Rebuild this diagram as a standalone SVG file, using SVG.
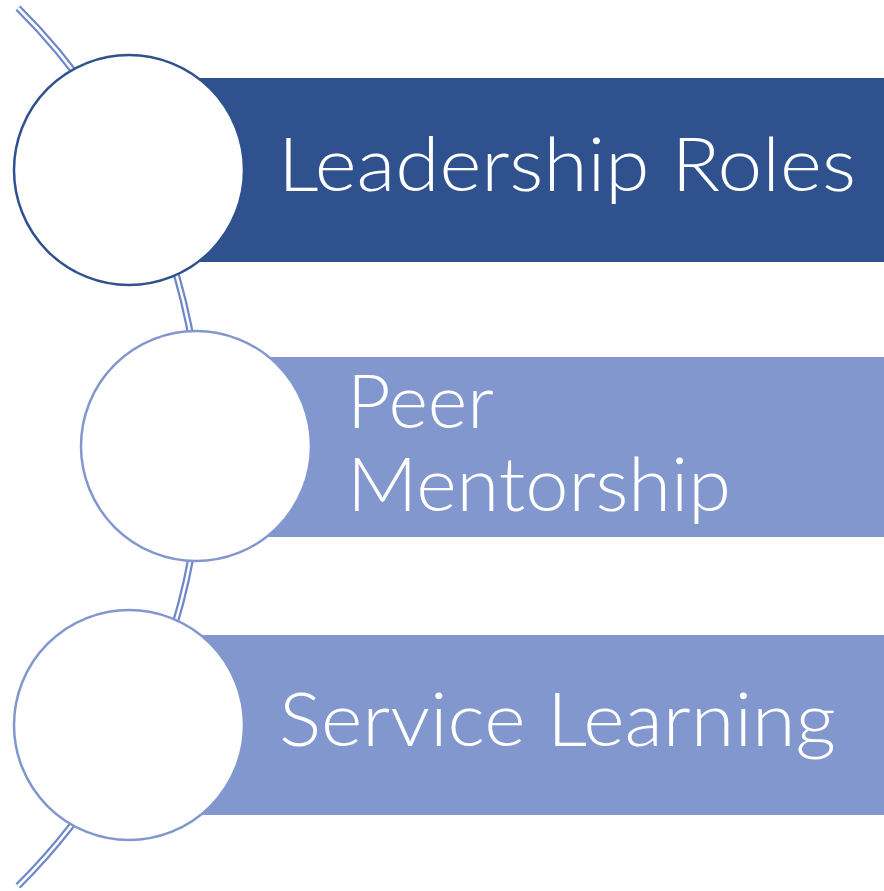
<svg xmlns="http://www.w3.org/2000/svg" width="884" height="891" viewBox="0 0 884 891">
<style>
.lbl{font-family:Lato,"Open Sans","Liberation Sans",sans-serif;font-weight:300;font-size:74px;fill:#ffffff}
.node{fill:#ffffff;stroke-width:2.5}
</style>
<rect width="884" height="891" fill="#ffffff"/>
<g id="connectors">
<path d="M18,8 A618.7,618.7 0 0,1 18,886" fill="none" stroke="#6F88CC" stroke-width="7"/>
<path d="M18,8 A618.7,618.7 0 0,1 18,886" fill="none" stroke="#ffffff" stroke-width="2.5"/>
</g>
<g id="node1">
<rect x="200" y="78" width="684" height="184" fill="#2F528F"/>
<circle class="node" cx="129" cy="170" r="115" stroke="#2F528F"/>
<text class="lbl" x="278" y="191" textLength="578" lengthAdjust="spacingAndGlyphs">Leadership Roles</text>
</g>
<g id="node2">
<rect x="265" y="357" width="619" height="180" fill="#8397CF"/>
<circle class="node" cx="196" cy="446" r="115" stroke="#8397CF"/>
<text class="lbl" x="347" y="428" textLength="147" lengthAdjust="spacingAndGlyphs">Peer</text>
<text class="lbl" x="347" y="511" textLength="384" lengthAdjust="spacingAndGlyphs">Mentorship</text>
</g>
<g id="node3">
<rect x="200" y="635" width="684" height="180" fill="#8397CF"/>
<circle class="node" cx="129" cy="725" r="115" stroke="#8397CF"/>
<text class="lbl" x="279" y="746" textLength="557" lengthAdjust="spacingAndGlyphs">Service Learning</text>
</g>
</svg>
